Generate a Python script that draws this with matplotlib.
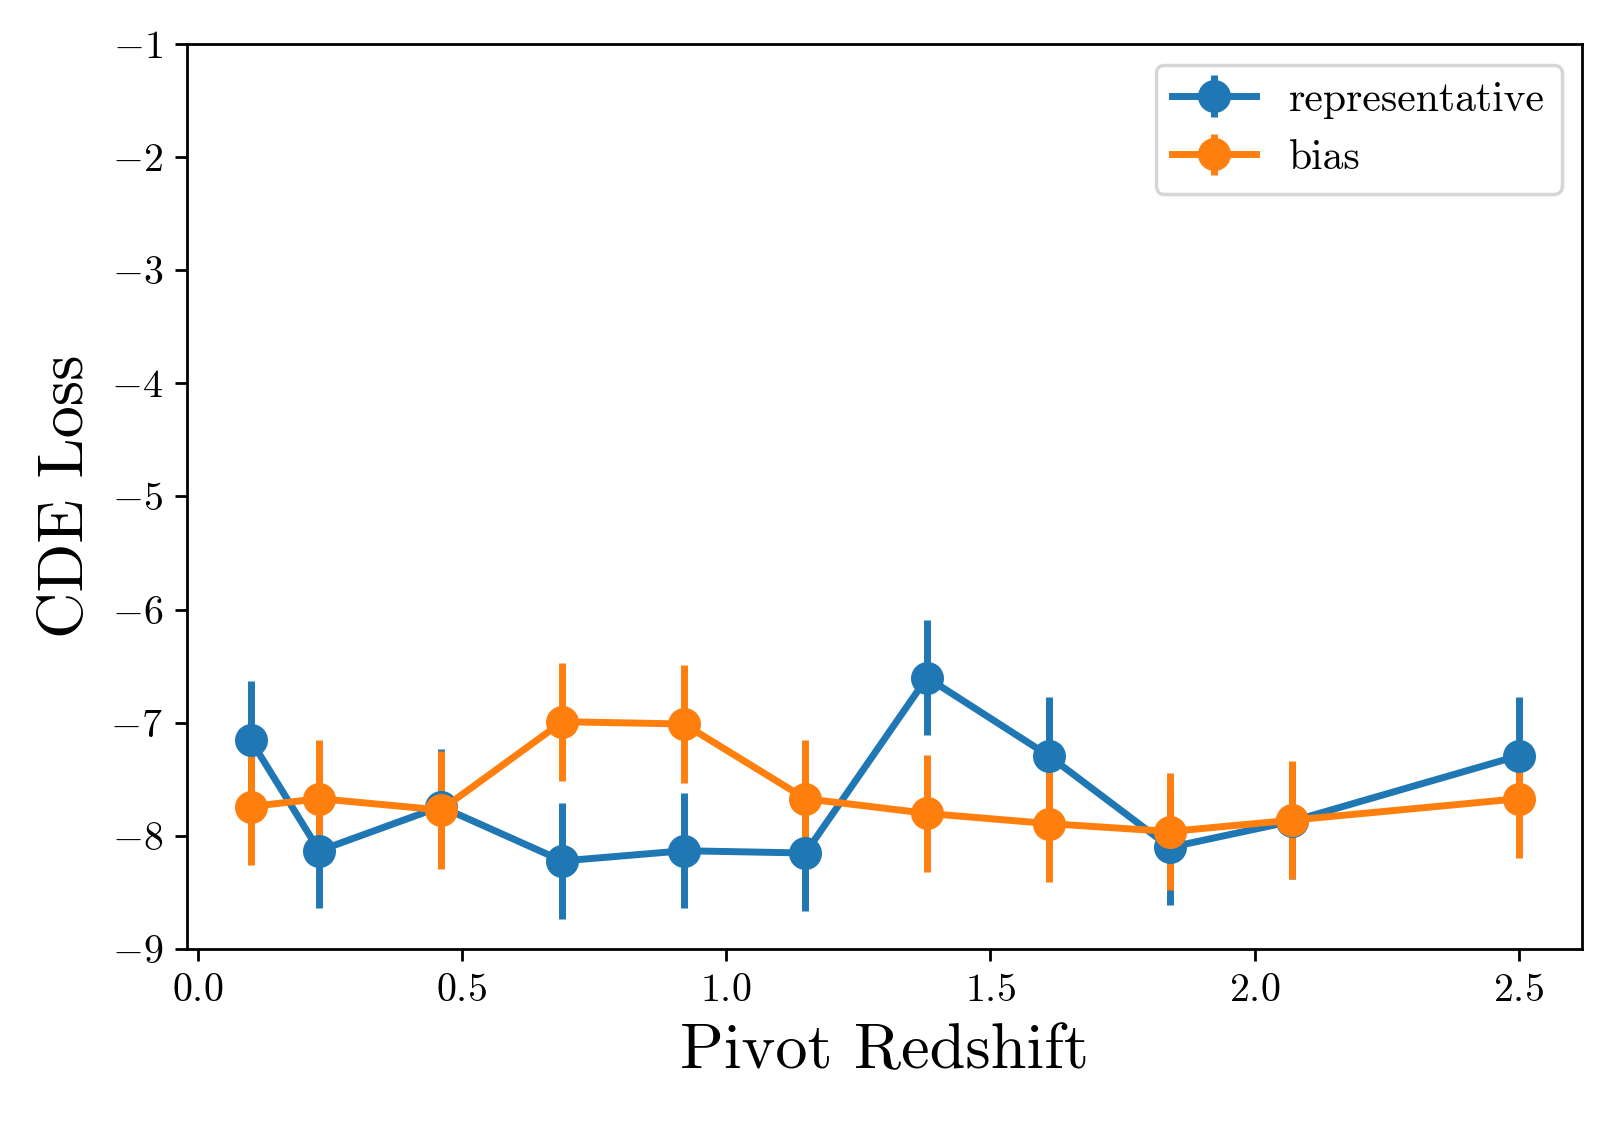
import matplotlib
matplotlib.use('Agg')
import matplotlib.pyplot as plt
import numpy as np

plt.rcParams['font.family'] = 'serif'
plt.rcParams['font.serif'] = ['cmr10', 'DejaVu Serif']
plt.rcParams['mathtext.fontset'] = 'cm'
plt.rcParams['axes.formatter.use_mathtext'] = True

# pivot redshifts
pivots = [0.1, 0.23, 0.46, 0.69, 0.92, 1.15, 1.38, 1.61, 1.84, 2.07, 2.5]

# CDE loss, representative training set
rep_loss = [-7.15, -8.13, -7.74, -8.22, -8.13, -8.15, -6.60, -7.29, -8.10, -7.87, -7.29]
rep_err = [0.52, 0.51, 0.51, 0.51, 0.51, 0.51, 0.51, 0.52, 0.51, 0.51, 0.52]

# CDE loss, biased training set
bias_loss = [-7.74, -7.67, -7.77, -6.99, -7.01, -7.67, -7.80, -7.89, -7.96, -7.86, -7.67]
bias_err = [0.52, 0.52, 0.52, 0.52, 0.52, 0.52, 0.52, 0.52, 0.52, 0.52, 0.52]

fig = plt.figure(figsize=(1613 / 250, 1122 / 250), dpi=250)
ax = fig.add_subplot(111)
fig.subplots_adjust(left=0.116, right=0.981, top=0.961, bottom=0.154)

ax.errorbar(pivots, rep_loss, yerr=rep_err, marker='o', markersize=8.5,
            linewidth=2, elinewidth=2, color='C0', label='representative')
ax.errorbar(pivots, bias_loss, yerr=bias_err, marker='o', markersize=8.5,
            linewidth=2, elinewidth=2, color='C1', label='bias')

ax.set_ylim(-9, -1)
ax.set_xticks([0.0, 0.5, 1.0, 1.5, 2.0, 2.5])
ax.tick_params(labelsize=11.5)
ax.set_xlabel('Pivot Redshift', fontsize=18.5)
ax.set_ylabel('CDE Loss', fontsize=18.5)
ax.legend(loc='upper right', fontsize=12)

fig.savefig('out.png', dpi=250)
plt.close(fig)
